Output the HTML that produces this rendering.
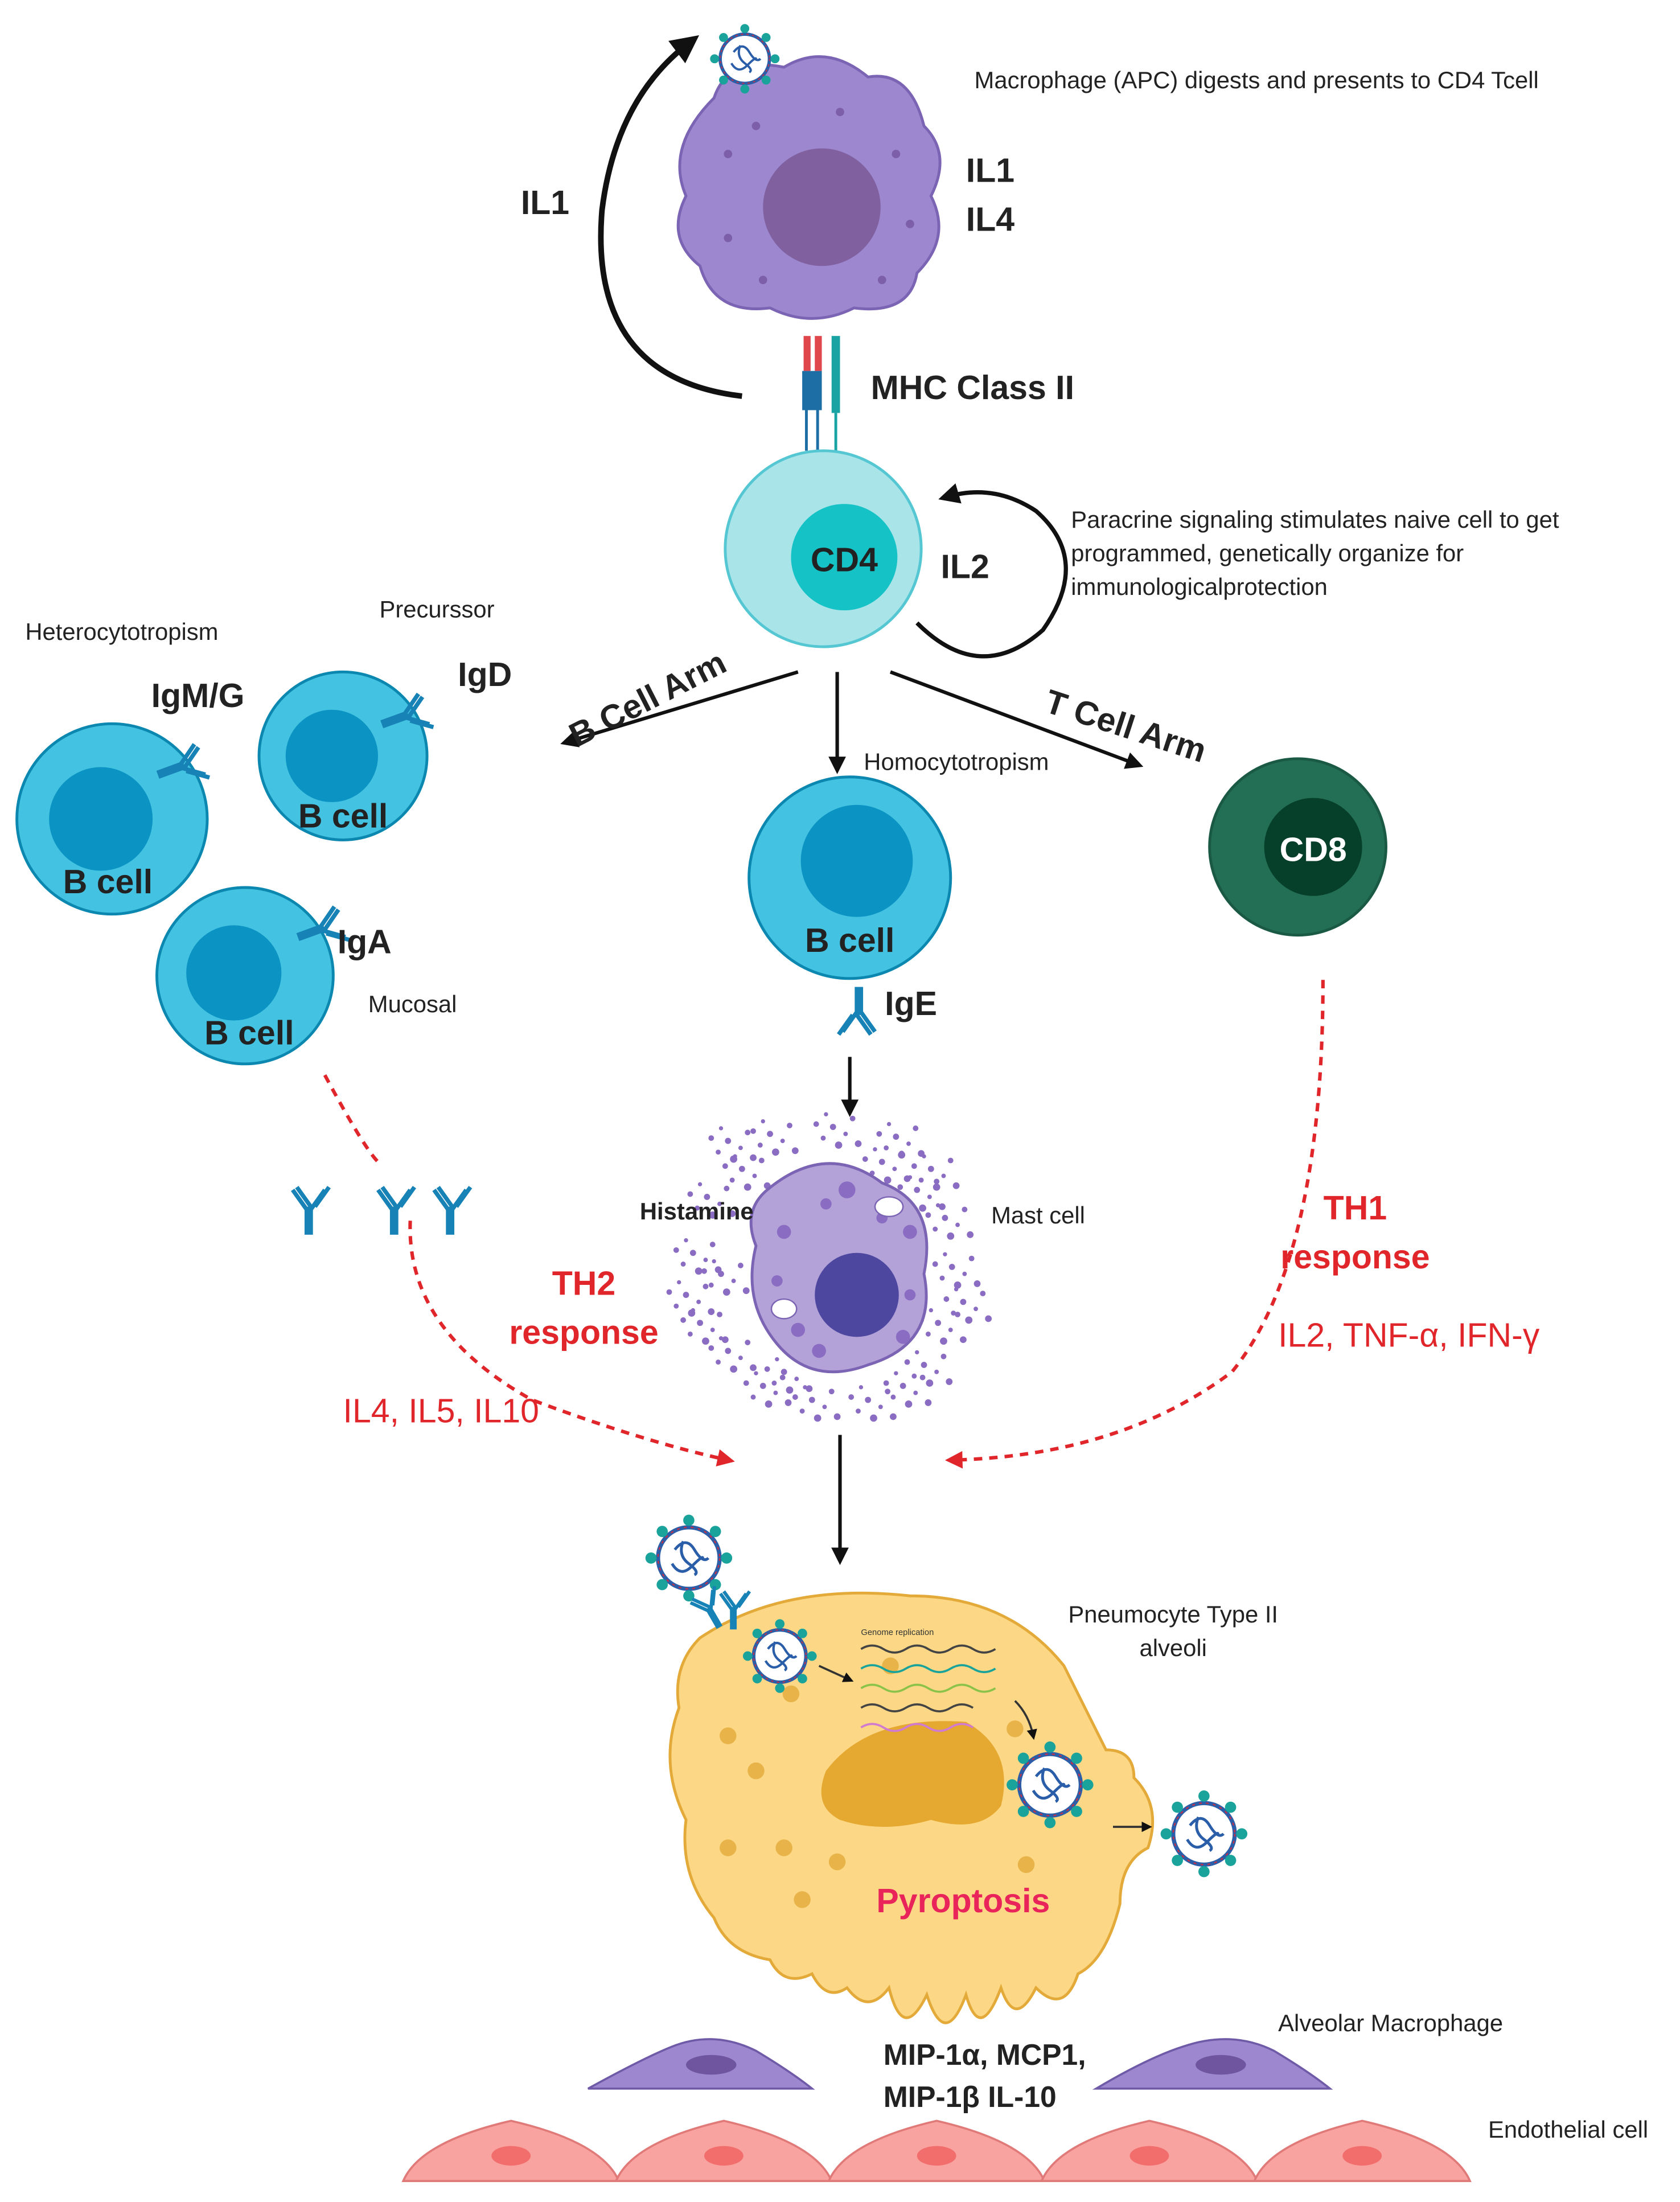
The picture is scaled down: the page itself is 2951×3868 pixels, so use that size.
<!DOCTYPE html>
<html><head><meta charset="utf-8">
<style>
html,body{margin:0;padding:0;background:#fff;}
svg{display:block;}
text{font-family:"Liberation Sans",sans-serif;}
</style></head>
<body>
<svg width="2951" height="3868" viewBox="0 0 1200 1573" xmlns="http://www.w3.org/2000/svg">
<defs>
<marker id="ah" viewBox="0 0 10 10" refX="6" refY="5" markerWidth="5" markerHeight="5" orient="auto"><path d="M0,0 L10,5 L0,10 z" fill="#111"/></marker>
<marker id="ahr" viewBox="0 0 10 10" refX="6" refY="5" markerWidth="5" markerHeight="5" orient="auto"><path d="M0,0 L10,5 L0,10 z" fill="#e0262a"/></marker>
<g id="virus">
<circle r="22" fill="#fff" stroke="#2b5ea8" stroke-width="3"/>
<circle r="22" fill="none" stroke="#c0314a" stroke-width="1" stroke-dasharray="2 3"/>
<path d="M-10,-6 q8,-10 14,0 t10,6 M-12,4 q6,10 14,2 t8,-6 M-4,-12 q-4,10 4,16 t4,8" fill="none" stroke="#2b5ea8" stroke-width="2"/>
<g fill="#1aa39a"><circle cx="0" cy="-27" r="4"/><circle cx="0" cy="27" r="4"/><circle cx="27" cy="0" r="4"/><circle cx="-27" cy="0" r="4"/><circle cx="19" cy="19" r="4"/><circle cx="-19" cy="19" r="4"/><circle cx="19" cy="-19" r="4"/><circle cx="-19" cy="-19" r="4"/></g>
</g>
<g id="ab" stroke="#1682b6" stroke-width="3" fill="none">
<path d="M0,0 L0,20 M-3,0 L-3,20 M0,0 L-10,-14 M-3,2 L-13,-12 M3,0 L13,-14 M0,2 L10,-12"/>
</g>
<g id="dots" fill="#8a6cc2">
<circle cx="0" cy="0" r="2.2"/><circle cx="9" cy="5" r="1.6"/><circle cx="4" cy="13" r="2.6"/><circle cx="-7" cy="8" r="1.8"/><circle cx="14" cy="-6" r="2"/><circle cx="-5" cy="-9" r="1.5"/><circle cx="18" cy="12" r="2.4"/><circle cx="-12" cy="-2" r="2"/>
</g>
</defs>

<!-- Macrophage -->
<path d="M510,70 Q520,40 560,48 Q590,30 620,55 Q650,50 660,90 Q680,110 665,140 Q680,170 655,195 Q650,225 610,220 Q580,235 550,220 Q510,225 500,190 Q475,170 490,140 Q475,105 510,70 z" fill="#9d88d0" stroke="#7b64b3" stroke-width="2"/>
<circle cx="587" cy="148" r="42" fill="#80609f"/>
<g fill="#7d5fa9"><circle cx="520" cy="110" r="3"/><circle cx="540" cy="90" r="3"/><circle cx="640" cy="110" r="3"/><circle cx="520" cy="170" r="3"/><circle cx="630" cy="200" r="3"/><circle cx="545" cy="200" r="3"/><circle cx="600" cy="80" r="3"/><circle cx="650" cy="160" r="3"/></g>
<use href="#virus" transform="translate(532 42) scale(0.8)"/>
<path d="M530,283 Q420,270 430,150 Q440,70 493,30" fill="none" stroke="#111" stroke-width="4" marker-end="url(#ah)"/>
<text x="372" y="153" font-size="24" font-weight="bold" fill="#222">IL1</text>
<text x="690" y="130" font-size="24" font-weight="bold" fill="#222">IL1</text>
<text x="690" y="165" font-size="24" font-weight="bold" fill="#222">IL4</text>
<text x="696" y="63" font-size="17" fill="#222">Macrophage (APC) digests and presents to CD4 Tcell</text>

<!-- MHC -->
<rect x="574" y="240" width="5" height="25" fill="#e0474d"/><rect x="582" y="240" width="5" height="25" fill="#e0474d"/>
<rect x="573" y="265" width="14" height="28" fill="#1d6ea5"/>
<rect x="594" y="240" width="6" height="55" fill="#1aa3a3"/>
<line x1="576" y1="293" x2="576" y2="322" stroke="#1d6ea5" stroke-width="2"/><line x1="584" y1="293" x2="584" y2="322" stroke="#1d6ea5" stroke-width="2"/>
<line x1="597" y1="295" x2="597" y2="322" stroke="#1aa3a3" stroke-width="2"/>
<text x="622" y="285" font-size="24" font-weight="bold" fill="#222">MHC Class II</text>

<!-- CD4 -->
<circle cx="588" cy="392" r="70" fill="#a9e4e9" stroke="#55c7d3" stroke-width="2"/>
<circle cx="603" cy="398" r="38" fill="#15c2c6"/>
<text x="603" y="408" font-size="24" font-weight="bold" fill="#222" text-anchor="middle">CD4</text>
<text x="672" y="413" font-size="24" font-weight="bold" fill="#222">IL2</text>
<path d="M655,445 Q700,490 745,450 Q780,400 740,365 Q710,345 676,355" fill="none" stroke="#111" stroke-width="3" marker-end="url(#ah)"/>
<text font-size="17" fill="#222"><tspan x="765" y="377">Paracrine signaling stimulates naive cell to get</tspan><tspan x="765" y="401">programmed,  genetically organize for</tspan><tspan x="765" y="425">immunologicalprotection</tspan></text>

<!-- arrows -->
<line x1="570" y1="480" x2="405" y2="530" stroke="#111" stroke-width="2.5" marker-end="url(#ah)"/>
<line x1="598" y1="480" x2="598" y2="548" stroke="#111" stroke-width="2.5" marker-end="url(#ah)"/>
<line x1="636" y1="480" x2="812" y2="546" stroke="#111" stroke-width="2.5" marker-end="url(#ah)"/>
<text x="412" y="534" font-size="24" font-weight="bold" fill="#222" transform="rotate(-27 412 534)">B Cell Arm</text>
<text x="745" y="508" font-size="24" font-weight="bold" fill="#222" transform="rotate(18 745 508)">T Cell Arm</text>
<text x="617" y="550" font-size="17" fill="#222">Homocytotropism</text>

<!-- B cells -->
<g stroke="#0b87b0" stroke-width="2">
<circle cx="80" cy="585" r="68" fill="#43c3e1"/><circle cx="72" cy="585" r="37" fill="#0b93c4" stroke="none"/>
<circle cx="245" cy="540" r="60" fill="#43c3e1"/><circle cx="237" cy="540" r="33" fill="#0b93c4" stroke="none"/>
<circle cx="175" cy="697" r="63" fill="#43c3e1"/><circle cx="167" cy="695" r="34" fill="#0b93c4" stroke="none"/>
<circle cx="607" cy="627" r="72" fill="#43c3e1"/><circle cx="612" cy="615" r="40" fill="#0b93c4" stroke="none"/>
</g>
<text x="45" y="638" font-size="24" font-weight="bold" fill="#222">B cell</text>
<text x="213" y="591" font-size="24" font-weight="bold" fill="#222">B cell</text>
<text x="146" y="746" font-size="24" font-weight="bold" fill="#222">B cell</text>
<text x="575" y="680" font-size="24" font-weight="bold" fill="#222">B cell</text>
<use href="#ab" transform="translate(132,548) rotate(70)"/>
<use href="#ab" transform="translate(292,512) rotate(70)"/>
<use href="#ab" transform="translate(232,664) rotate(70)"/>
<use href="#ab" transform="translate(612,725) rotate(180)"/>
<text x="108" y="505" font-size="24" font-weight="bold" fill="#222">IgM/G</text>
<text x="327" y="490" font-size="24" font-weight="bold" fill="#222">IgD</text>
<text x="241" y="681" font-size="24" font-weight="bold" fill="#222">IgA</text>
<text x="632" y="725" font-size="24" font-weight="bold" fill="#222">IgE</text>
<text x="18" y="457" font-size="17" fill="#222">Heterocytotropism</text>
<text x="271" y="441" font-size="17" fill="#222">Precurssor</text>
<text x="263" y="723" font-size="17" fill="#222">Mucosal</text>

<!-- CD8 -->
<circle cx="927" cy="605" r="63" fill="#236f55" stroke="#1a5a44" stroke-width="2"/>
<circle cx="938" cy="605" r="35" fill="#063f2a"/>
<text x="938" y="615" font-size="24" font-weight="bold" fill="#fff" text-anchor="middle">CD8</text>

<!-- free antibodies -->
<use href="#ab" transform="translate(222,862)"/>
<use href="#ab" transform="translate(283,862)"/>
<use href="#ab" transform="translate(323,862)"/>

<!-- mast cell -->
<line x1="607" y1="755" x2="607" y2="793" stroke="#111" stroke-width="2.5" marker-end="url(#ah)"/>
<use href="#dots" x="520" y="815"/><use href="#dots" x="550" y="810"/><use href="#dots" x="595" y="805"/><use href="#dots" x="640" y="812"/><use href="#dots" x="665" y="835"/>
<use href="#dots" x="505" y="855"/><use href="#dots" x="675" y="870"/><use href="#dots" x="495" y="895"/><use href="#dots" x="515" y="910"/><use href="#dots" x="680" y="905"/>
<use href="#dots" x="500" y="945"/><use href="#dots" x="520" y="965"/><use href="#dots" x="670" y="945"/><use href="#dots" x="660" y="975"/><use href="#dots" x="545" y="990"/>
<use href="#dots" x="580" y="1000"/><use href="#dots" x="620" y="1000"/><use href="#dots" x="645" y="990"/><use href="#dots" x="530" y="835"/><use href="#dots" x="655" y="850"/>
<use href="#dots" x="490" y="925"/><use href="#dots" x="688" y="930"/><use href="#dots" x="560" y="980"/><use href="#dots" x="630" y="830"/>
<path d="M548,850 Q590,815 630,845 Q670,860 660,910 Q670,960 620,975 Q580,990 555,960 Q530,930 540,890 Q530,865 548,850 z" fill="#b3a2d8" stroke="#7b64b3" stroke-width="2"/>
<circle cx="612" cy="925" r="30" fill="#4d47a0"/>
<g fill="#8a6cc2"><circle cx="560" cy="880" r="5"/><circle cx="650" cy="880" r="5"/><circle cx="570" cy="950" r="5"/><circle cx="645" cy="955" r="5"/><circle cx="590" cy="860" r="4"/><circle cx="605" cy="850" r="6"/><circle cx="630" cy="870" r="4"/><circle cx="555" cy="915" r="4"/><circle cx="585" cy="965" r="5"/><circle cx="650" cy="925" r="4"/></g>
<ellipse cx="635" cy="862" rx="10" ry="7" fill="#fff" stroke="#7b64b3"/>
<ellipse cx="560" cy="935" rx="9" ry="7" fill="#fff" stroke="#7b64b3"/>
<text x="457" y="871" font-size="17" font-weight="bold" fill="#222">Histamine</text>
<text x="708" y="874" font-size="17" fill="#222">Mast cell</text>
<line x1="600" y1="1025" x2="600" y2="1113" stroke="#111" stroke-width="2.5" marker-end="url(#ah)"/>

<!-- red dashed -->
<path d="M232,768 Q260,820 270,830 M293,872 Q290,950 380,1000 Q460,1030 520,1043" fill="none" stroke="#e0262a" stroke-width="2.5" stroke-dasharray="6 5" marker-end="url(#ahr)"/>
<path d="M945,700 Q945,900 880,980 Q800,1040 680,1043" fill="none" stroke="#e0262a" stroke-width="2.5" stroke-dasharray="6 5" marker-end="url(#ahr)"/>
<text x="417" y="925" font-size="24" font-weight="bold" fill="#e0262a" text-anchor="middle">TH2</text>
<text x="417" y="960" font-size="24" font-weight="bold" fill="#e0262a" text-anchor="middle">response</text>
<text x="245" y="1016" font-size="24" fill="#e0262a">IL4, IL5, IL10</text>
<text x="968" y="871" font-size="24" font-weight="bold" fill="#e0262a" text-anchor="middle">TH1</text>
<text x="968" y="906" font-size="24" font-weight="bold" fill="#e0262a" text-anchor="middle">response</text>
<text x="913" y="962" font-size="24" fill="#e0262a">IL2, TNF-α, IFN-γ</text>

<!-- pneumocyte -->
<path d="M500,1170 Q560,1130 650,1140 Q720,1140 760,1190 Q780,1230 790,1250 Q810,1250 810,1270 Q830,1290 820,1320 Q800,1330 800,1360 Q790,1400 770,1410 Q760,1440 740,1420 Q725,1450 715,1420 Q700,1460 690,1425 Q675,1465 662,1425 Q645,1460 635,1420 Q620,1440 605,1420 Q590,1430 580,1410 Q560,1420 550,1400 Q520,1395 510,1370 Q485,1340 490,1300 Q470,1260 485,1220 Q480,1190 500,1170 z" fill="#fcd886" stroke="#e3aa3a" stroke-width="2"/>
<path d="M590,1265 Q620,1225 690,1230 Q725,1250 715,1290 Q700,1310 665,1300 Q630,1310 600,1300 Q580,1290 590,1265 z" fill="#e5a830"/>
<g fill="#e8b44a"><circle cx="565" cy="1210" r="6"/><circle cx="520" cy="1240" r="6"/><circle cx="540" cy="1265" r="6"/><circle cx="560" cy="1320" r="6"/><circle cx="598" cy="1330" r="6"/><circle cx="573" cy="1357" r="6"/><circle cx="733" cy="1332" r="6"/><circle cx="636" cy="1190" r="6"/><circle cx="725" cy="1235" r="6"/><circle cx="520" cy="1320" r="6"/></g>
<g fill="none" stroke-width="1.5">
<path d="M615,1178 q8,-5 16,0 t16,0 t16,0 t16,0 t16,0 t16,0" stroke="#444"/>
<path d="M615,1192 q8,-5 16,0 t16,0 t16,0 t16,0 t16,0 t16,0" stroke="#1aa39a"/>
<path d="M615,1206 q8,-5 16,0 t16,0 t16,0 t16,0 t16,0 t16,0" stroke="#8bc34a"/>
<path d="M615,1220 q8,-5 16,0 t16,0 t16,0 t16,0 t16,0" stroke="#444"/>
<path d="M615,1234 q8,-5 16,0 t16,0 t16,0 t16,0 t16,0" stroke="#d07ad0"/>
</g>
<text x="615" y="1168" font-size="6" fill="#333">Genome replication</text>
<path d="M585,1190 L607,1200" stroke="#333" stroke-width="1.5" marker-end="url(#ah)"/>
<path d="M725,1215 Q735,1225 738,1240" stroke="#333" stroke-width="1.5" fill="none" marker-end="url(#ah)"/>
<path d="M795,1305 L820,1305" stroke="#333" stroke-width="1.5" marker-end="url(#ah)"/>
<use href="#virus" transform="translate(557 1183) scale(0.85)"/>
<use href="#virus" x="750" y="1275"/>
<use href="#virus" x="860" y="1310"/>
<use href="#virus" x="492" y="1113"/>
<use href="#ab" transform="translate(507,1148) rotate(-30) scale(0.8)"/>
<use href="#ab" transform="translate(525,1148) scale(0.8)"/>
<text x="688" y="1366" font-size="24" font-weight="bold" fill="#e8245a" text-anchor="middle">Pyroptosis</text>
<text x="838" y="1159" font-size="17" fill="#222" text-anchor="middle">Pneumocyte Type II</text>
<text x="838" y="1183" font-size="17" fill="#222" text-anchor="middle">alveoli</text>

<!-- alveolar macrophages -->
<path d="M420,1492 Q460,1470 480,1462 Q510,1450 540,1465 Q565,1480 580,1492 z" fill="#9d88d0" stroke="#6f5aa8" stroke-width="1.5"/>
<ellipse cx="508" cy="1475" rx="18" ry="7" fill="#6f54a0"/>
<path d="M783,1492 Q820,1470 845,1462 Q880,1450 910,1465 Q935,1480 950,1492 z" fill="#9d88d0" stroke="#6f5aa8" stroke-width="1.5"/>
<ellipse cx="872" cy="1475" rx="18" ry="7" fill="#6f54a0"/>
<text x="913" y="1451" font-size="17" fill="#222">Alveolar Macrophage</text>
<text x="631" y="1475" font-size="21" font-weight="bold" fill="#222">MIP-1α, MCP1,</text>
<text x="631" y="1505" font-size="21" font-weight="bold" fill="#222">MIP-1β IL-10</text>

<!-- endothelial -->
<g fill="#f9a3a0" stroke="#e07a78" stroke-width="1.5">
<path d="M288,1558 Q300,1530 365,1515 Q430,1530 442,1558 z"/>
<path d="M440,1558 Q452,1530 517,1515 Q582,1530 594,1558 z"/>
<path d="M592,1558 Q604,1530 669,1515 Q734,1530 746,1558 z"/>
<path d="M744,1558 Q756,1530 821,1515 Q886,1530 898,1558 z"/>
<path d="M896,1558 Q908,1530 973,1515 Q1038,1530 1050,1558 z"/>
</g>
<g fill="#f26e6c"><ellipse cx="365" cy="1540" rx="14" ry="7"/><ellipse cx="517" cy="1540" rx="14" ry="7"/><ellipse cx="669" cy="1540" rx="14" ry="7"/><ellipse cx="821" cy="1540" rx="14" ry="7"/><ellipse cx="973" cy="1540" rx="14" ry="7"/></g>
<text x="1063" y="1527" font-size="17" fill="#222">Endothelial cell</text>
</svg>
</body></html>
